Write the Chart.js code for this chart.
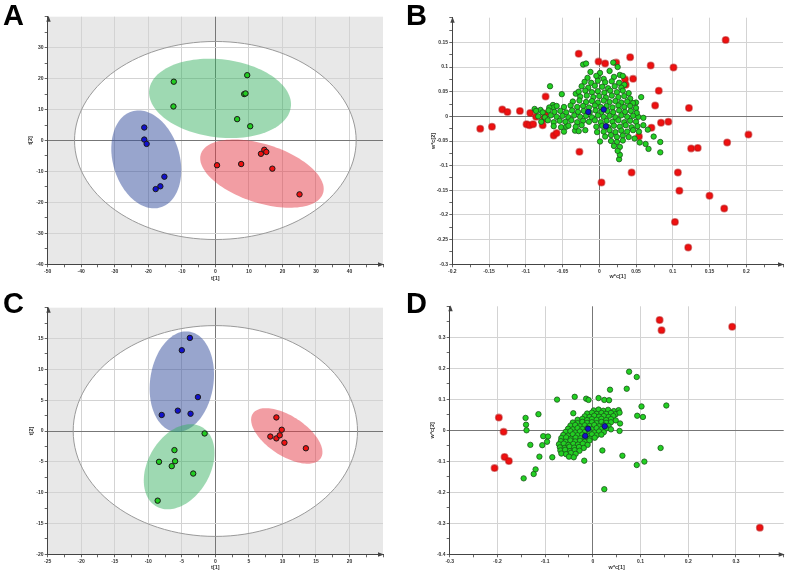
<!DOCTYPE html>
<html><head><meta charset="utf-8">
<script src="https://cdn.jsdelivr.net/npm/chart.js@4.4.0/dist/chart.umd.min.js"></script>
<style>
html,body{margin:0;padding:0;background:#fff;width:787px;height:573px;overflow:hidden;}
.panel{position:absolute;}
.panel canvas{display:block;}
.letter{position:absolute;font-family:"Liberation Sans",Arial,sans-serif;font-weight:bold;font-size:29px;line-height:29px;color:#000;}
</style></head><body>
<div class="panel" style="left:0;top:0;width:393px;height:285px"><canvas id="cA" width="393" height="285"></canvas></div>
<div class="panel" style="left:393px;top:0;width:394px;height:285px"><canvas id="cB" width="394" height="285"></canvas></div>
<div class="panel" style="left:0;top:285px;width:393px;height:288px"><canvas id="cC" width="393" height="288"></canvas></div>
<div class="panel" style="left:393px;top:285px;width:394px;height:288px"><canvas id="cD" width="394" height="288"></canvas></div>
<div class="letter" style="left:3px;top:1px">A</div>
<div class="letter" style="left:406px;top:1px">B</div>
<div class="letter" style="left:3px;top:289px">C</div>
<div class="letter" style="left:406px;top:289px">D</div>
<script>
// ---------- DATA ----------
// Panel A: scores t[1] vs t[2]
const aBlue  = [[-21.2,4.2],[-21.2,0.3],[-20.5,-1.1],[-15.2,-11.7],[-16.4,-14.8],[-17.8,-15.7]];
const aGreen = [[-12.4,19.0],[-12.5,11.0],[9.5,21.1],[8.6,15.0],[9.0,15.2],[6.5,6.9],[10.4,4.6]];
const aRed   = [[0.5,-8.0],[7.7,-7.6],[13.6,-4.3],[14.6,-3.0],[15.2,-3.7],[17.0,-9.1],[25.1,-17.4]];
const aHotelling = [42, 32];
// group ellipses: [cx, cy, semi-major, semi-minor, angle deg]
const aEllBlue  = [-20.6, -6.1, 16.1, 10.0, -76.4];
const aEllGreen = [1.4, 13.6, 21.3, 12.6, -8];
const aEllRed   = [13.9, -10.7, 19.3, 9.4, -20];

// Panel C: scores
const cBlue  = [[-3.8,15.1],[-5.0,13.1],[-2.6,5.5],[-5.6,3.3],[-3.7,2.8],[-8.0,2.6]];
const cGreen = [[-1.6,-0.4],[-6.1,-3.1],[-8.4,-5.0],[-6.0,-4.9],[-6.5,-5.7],[-3.3,-6.9],[-8.6,-11.3]];
const cRed   = [[9.1,2.2],[9.9,0.2],[8.2,-0.9],[9.1,-1.2],[9.6,-0.7],[10.3,-1.9],[13.5,-2.8]];
const cHotelling = [21.2, 17.1];
const cEllBlue  = [-5.0, 8.0, 8.2, 4.73, 83];
const cEllGreen = [-5.4, -5.8, 7.29, 4.72, 65];
const cEllRed   = [10.65, -0.8, 6.23, 3.12, -37];

// Panel B: loadings w*c[1] vs w*c[2]
const bBlue = [[-0.015,0.009],[0.006,0.014],[0.009,-0.020]];
const bRed = [[0.172,0.155],[-0.028,0.127],[-0.001,0.111],[0.008,0.107],[0.023,0.109],[0.042,0.120],[0.070,0.103],
 [0.101,0.099],[0.046,0.076],[0.035,0.075],[0.036,0.064],[0.081,0.052],[0.076,0.022],[0.122,0.017],[-0.073,0.040],
 [-0.132,0.014],[-0.125,0.009],[-0.108,0.011],[-0.094,0.007],[-0.162,-0.025],[-0.146,-0.021],[-0.099,-0.016],
 [-0.095,-0.018],[-0.090,-0.016],[-0.077,-0.018],[-0.075,-0.005],[-0.074,0.005],[-0.086,-0.001],[-0.062,-0.039],
 [-0.058,-0.034],[-0.027,-0.072],[0.003,-0.134],[0.044,-0.114],[0.054,-0.041],[0.071,-0.023],[0.084,-0.013],
 [0.094,-0.011],[0.203,-0.037],[0.174,-0.053],[0.125,-0.065],[0.134,-0.064],[0.107,-0.114],[0.109,-0.151],
 [0.150,-0.161],[0.170,-0.187],[0.103,-0.214],[0.121,-0.266]];
const bGreen = [
 [-0.022,0.105],[-0.018,0.107],[0.019,0.109],[0.025,0.100],[0.028,0.084],[0.032,0.082],[-0.002,0.080],[-0.067,0.061],
 [-0.051,0.045],[-0.032,0.046],[0.057,0.039],[0.050,0.028],[0.053,-0.001],[0.060,-0.003],[0.083,-0.052],[0.083,-0.073],
 [0.067,-0.066],[0.063,-0.056],[0.074,-0.041],[0.055,-0.053],[0.001,-0.051],[-0.003,-0.032],[0.027,-0.087],[0.028,-0.078],
 [-0.088,0.015],[-0.080,0.013],[-0.063,0.023],[-0.062,0.018],[-0.048,-0.031],[-0.045,-0.021],[-0.033,-0.029],[-0.019,-0.028],
 [-0.012,0.09],[0.001,0.088],[0.014,0.092],
 [-0.016,0.078],[-0.004,0.082],[0.006,0.076],[0.02,0.08],
 [-0.02,0.07],[-0.011,0.068],[-0.002,0.072],[0.008,0.069],[0.017,0.071],[0.027,0.068],[0.034,0.064],
 [-0.024,0.061],[-0.015,0.058],[-0.006,0.062],[0.004,0.06],[0.012,0.057],[0.021,0.061],[0.03,0.058],
 [-0.028,0.05],[-0.019,0.052],[-0.01,0.049],[-0.002,0.051],[0.007,0.048],[0.015,0.052],[0.024,0.049],[0.032,0.052],[0.04,0.047],
 [-0.026,0.04],[-0.017,0.042],[-0.008,0.039],[0.0,0.041],[0.009,0.038],[0.017,0.042],[0.026,0.039],[0.034,0.041],[0.042,0.036],
 [-0.036,0.03],[-0.027,0.032],[-0.018,0.029],[-0.01,0.031],[-0.002,0.028],[0.006,0.032],[0.014,0.029],[0.022,0.031],[0.03,0.028],[0.038,0.03],[0.046,0.027],
 [-0.068,0.018],[-0.058,0.021],[-0.048,0.019],[-0.039,0.022],[-0.03,0.019],[-0.022,0.021],[-0.014,0.018],[-0.006,0.022],[0.002,0.019],[0.01,0.021],[0.018,0.018],[0.026,0.022],[0.034,0.019],[0.042,0.021],[0.05,0.017],
 [-0.086,0.011],[-0.077,0.008],[-0.069,0.012],[-0.061,0.009],[-0.053,0.011],[-0.045,0.008],[-0.037,0.012],[-0.029,0.009],[-0.021,0.011],[-0.013,0.008],[-0.005,0.012],[0.003,0.009],[0.011,0.011],[0.019,0.008],[0.027,0.012],[0.035,0.009],[0.043,0.011],[0.051,0.007],
 [-0.083,0.0],[-0.074,-0.002],[-0.066,0.002],[-0.058,-0.001],[-0.05,0.001],[-0.042,-0.002],[-0.034,0.002],[-0.026,-0.001],[-0.018,0.001],[-0.01,-0.002],[-0.002,0.002],[0.006,-0.001],[0.014,0.001],[0.022,-0.002],[0.03,0.002],[0.038,-0.001],[0.046,0.001],
 [-0.079,-0.011],[-0.07,-0.008],[-0.062,-0.012],[-0.054,-0.009],[-0.046,-0.011],[-0.038,-0.008],[-0.03,-0.012],[-0.022,-0.009],[-0.014,-0.011],[-0.006,-0.008],[0.002,-0.012],[0.01,-0.009],[0.018,-0.011],[0.026,-0.008],[0.034,-0.012],[0.042,-0.009],[0.05,-0.011],
 [-0.062,-0.02],[-0.052,-0.022],[-0.042,-0.019],[-0.032,-0.021],[-0.024,-0.018],[-0.004,-0.021],[0.004,-0.019],[0.012,-0.022],[0.02,-0.019],[0.028,-0.021],[0.036,-0.018],[0.044,-0.022],[0.052,-0.02],[0.06,-0.018],
 [-0.028,-0.03],[0.006,-0.031],[0.014,-0.028],[0.022,-0.032],[0.03,-0.029],[0.038,-0.031],[0.046,-0.028],[0.054,-0.031],[0.066,-0.027],
 [0.008,-0.041],[0.016,-0.038],[0.024,-0.042],[0.032,-0.039],[0.04,-0.042],[0.048,-0.045],
 [0.016,-0.05],[0.024,-0.052],[0.032,-0.049],[0.02,-0.06],[0.028,-0.062],[0.025,-0.07]];

// Panel D: loadings
const dBlue = [[-0.010,0.005],[0.025,0.013],[-0.016,-0.018]];
const dRed = [[0.140,0.356],[0.144,0.323],[0.292,0.334],[0.350,-0.314],[-0.197,0.041],[-0.187,-0.005],[-0.185,-0.086],[-0.176,-0.099],[-0.206,-0.122]];
const dGreen = [
 [0.076,0.189],[0.092,0.172],[0.071,0.134],[0.036,0.131],[-0.038,0.108],[-0.075,0.099],[-0.014,0.102],[-0.009,0.098],
 [0.012,0.104],[0.024,0.098],[0.034,0.097],[0.154,0.080],[0.102,0.077],[0.093,0.047],[0.105,0.043],[-0.141,0.040],
 [-0.114,0.052],[-0.140,0.018],[-0.139,0.000],[-0.041,0.055],[0.057,0.022],[-0.131,-0.047],[-0.104,-0.019],[-0.094,-0.020],
 [-0.096,-0.037],[-0.106,-0.048],[-0.112,-0.085],[-0.085,-0.087],[-0.120,-0.126],[-0.124,-0.141],[-0.145,-0.155],
 [-0.018,-0.098],[0.020,-0.065],[0.062,-0.082],[0.024,-0.190],[0.142,-0.057],[0.092,-0.112],[0.108,-0.101],[0.056,-0.002],
 [0.002,0.064],[0.012,0.067],[0.022,0.063],[0.032,0.066],[0.044,0.062],[0.054,0.065],
 [-0.012,0.054],[-0.002,0.057],[0.008,0.053],[0.018,0.056],[0.028,0.053],[0.038,0.056],[0.048,0.052],[0.056,0.057],
 [-0.017,0.045],[-0.007,0.043],[0.003,0.047],[0.013,0.044],[0.023,0.046],[0.033,0.043],[0.043,0.046],
 [-0.032,0.034],[-0.022,0.037],[-0.012,0.033],[-0.002,0.036],[0.008,0.034],[0.018,0.037],[0.028,0.033],[0.038,0.036],[0.048,0.032],
 [-0.042,0.025],[-0.032,0.023],[-0.022,0.027],[-0.012,0.024],[-0.002,0.026],[0.008,0.023],[0.018,0.027],[0.028,0.024],[0.038,0.026],
 [-0.047,0.015],[-0.037,0.017],[-0.027,0.013],[-0.017,0.016],[-0.007,0.014],[0.003,0.017],[0.013,0.013],[0.023,0.016],[0.033,0.014],
 [-0.052,0.005],[-0.042,0.003],[-0.032,0.007],[-0.022,0.004],[-0.012,0.006],[-0.002,0.003],[0.008,0.007],[0.018,0.004],[0.028,0.006],[0.038,0.003],
 [-0.057,-0.005],[-0.047,-0.003],[-0.037,-0.007],[-0.027,-0.004],[-0.017,-0.006],[-0.007,-0.003],[0.003,-0.007],[0.013,-0.004],[0.023,-0.006],
 [-0.062,-0.015],[-0.052,-0.017],[-0.042,-0.013],[-0.032,-0.016],[-0.022,-0.014],[-0.012,-0.017],[-0.002,-0.013],[0.008,-0.016],[0.018,-0.014],
 [-0.066,-0.025],[-0.056,-0.023],[-0.046,-0.027],[-0.036,-0.024],[-0.026,-0.026],[-0.016,-0.023],[-0.006,-0.027],[0.004,-0.024],
 [-0.067,-0.035],[-0.057,-0.037],[-0.047,-0.033],[-0.037,-0.036],[-0.027,-0.034],[-0.017,-0.037],[-0.007,-0.033],
 [-0.071,-0.045],[-0.061,-0.043],[-0.051,-0.047],[-0.041,-0.044],[-0.031,-0.046],[-0.021,-0.043],[-0.011,-0.047],
 [-0.069,-0.055],[-0.059,-0.057],[-0.049,-0.053],[-0.039,-0.056],[-0.029,-0.054],[-0.019,-0.057],
 [-0.068,-0.065],[-0.058,-0.063],[-0.048,-0.067],[-0.038,-0.064],[-0.028,-0.066],
 [-0.066,-0.075],[-0.056,-0.077],[-0.046,-0.073],[-0.036,-0.076],[-0.05,-0.085],[-0.04,-0.087]];

// Axis ranges: [min, max, minor step, major step]
const aXAxis = [-50, 50, 5, 10], aYAxis = [-40, 40, 5, 10];
const bXAxis = [-0.2, 0.25, 0.025, 0.05], bYAxis = [-0.3, 0.2, 0.025, 0.05];
const cXAxis = [-25, 25, 2.5, 5], cYAxis = [-20, 20, 2.5, 5];
const dXAxis = [-0.3, 0.4, 0.05, 0.1], dYAxis = [-0.4, 0.4, 0.05, 0.1];

// ---------- STYLE / RENDER ----------
const FONT = {family:'"Liberation Sans", Arial, sans-serif', size:5, weight:'bold'};
const TFONT = {family:'"Liberation Sans", Arial, sans-serif', size:5.5, weight:'bold'};
const ELL_COLORS = {blue:'rgba(58,82,160,0.52)', green:'rgba(52,175,95,0.48)', red:'rgba(230,60,72,0.5)'};
const decor = {};

function isMajor(v, major){ const r = v/major; return Math.abs(r - Math.round(r)) < 1e-6; }
function fmt(v){ return String(parseFloat(v.toFixed(4))); }
function toXY(arr){ return arr.map(p => ({x:p[0], y:p[1]})); }

function axis(rng, pos, fit, title, titlePad){
  const [mn, mx, minor, major] = rng;
  return {
    type:'linear', position:pos, min:mn, max:mx,
    afterFit: s => { if (pos === 'left') s.width = fit; else s.height = fit; },
    ticks:{ stepSize:minor, autoSkip:false, maxRotation:0, minRotation:0, padding:1.2, font:FONT, color:'#333',
      callback: v => (isMajor(v, major) && Math.abs(v - mx) > 1e-9) ? fmt(v) : '' },
    grid:{ lineWidth:1, tickLength:3, tickColor:'#666', drawTicks:true,
      color: ctx => { const v = ctx.tick ? ctx.tick.value : null;
        if (v === null) return 'rgba(0,0,0,0)';
        if (Math.abs(v - mn) < 1e-9 || Math.abs(v - mx) < 1e-9) return 'rgba(0,0,0,0)';
        if (Math.abs(v) < 1e-9) return '#777';
        return isMajor(v, major) ? '#d3d3d3' : 'rgba(0,0,0,0)'; } },
    border:{ display:true, color:'#444', width:1 },
    title:{ display:true, text:title, font:TFONT, color:'#333', padding: titlePad }
  };
}

function ellPath(ctx, xs, ys, e){
  const [cx, cy, a, b, deg] = e; const th = deg*Math.PI/180;
  ctx.beginPath();
  for (let i = 0; i <= 120; i++){
    const t = i/120*Math.PI*2; const dx = a*Math.cos(t), dy = b*Math.sin(t);
    const x = cx + dx*Math.cos(th) - dy*Math.sin(th);
    const y = cy + dx*Math.sin(th) + dy*Math.cos(th);
    const px = xs.getPixelForValue(x), py = ys.getPixelForValue(y);
    if (i === 0) ctx.moveTo(px, py); else ctx.lineTo(px, py);
  }
  ctx.closePath();
}

const pcaDecor = {
  id:'pcaDecor',
  beforeDraw(chart){
    const d = decor[chart.canvas.id]; if (!d) return;
    const {ctx, chartArea:ca, scales:{x, y}} = chart;
    ctx.save();
    if (d.hotelling){
      ctx.fillStyle = '#e8e8e8';
      ctx.fillRect(ca.left, ca.top, ca.right - ca.left, ca.bottom - ca.top);
      ellPath(ctx, x, y, [0, 0, d.hotelling[0], d.hotelling[1], 0]);
      ctx.fillStyle = '#ffffff'; ctx.fill();
    }
    ctx.restore();
  },
  beforeDatasetsDraw(chart){
    const d = decor[chart.canvas.id]; if (!d) return;
    const {ctx, chartArea:ca, scales:{x, y}} = chart;
    ctx.save();
    ctx.beginPath(); ctx.rect(ca.left, ca.top, ca.right-ca.left, ca.bottom-ca.top); ctx.clip();
    if (d.hotelling){
      ellPath(ctx, x, y, [0, 0, d.hotelling[0], d.hotelling[1], 0]);
      ctx.strokeStyle = '#9a9a9a'; ctx.lineWidth = 1; ctx.stroke();
    }
    (d.groups || []).forEach(g => { ellPath(ctx, x, y, g.e); ctx.fillStyle = g.color; ctx.fill(); });
    ctx.restore();
  },
  afterDraw(chart){
    const {ctx, chartArea:ca} = chart;
    ctx.save(); ctx.fillStyle = '#444';
    const lx = Math.round(ca.left) + 0.5, by = Math.round(ca.bottom) + 0.5;
    ctx.beginPath(); ctx.moveTo(lx, ca.top - 1); ctx.lineTo(lx - 2.2, ca.top + 5); ctx.lineTo(lx + 2.2, ca.top + 5); ctx.closePath(); ctx.fill();
    ctx.beginPath(); ctx.moveTo(ca.right + 1, by); ctx.lineTo(ca.right - 5, by - 2.2); ctx.lineTo(ca.right - 5, by + 2.2); ctx.closePath(); ctx.fill();
    ctx.restore();
  }
};
Chart.register(pcaDecor);

function scoreSets(blue, green, red){
  const base = {radius:2.7, borderWidth:1, borderColor:'#1a1a1a', hoverRadius:2.7};
  return [
    Object.assign({label:'blue', data:toXY(blue), backgroundColor:'#1111cc'}, base),
    Object.assign({label:'green', data:toXY(green), backgroundColor:'#22cc22'}, base),
    Object.assign({label:'red', data:toXY(red), backgroundColor:'#ee1111'}, base)
  ];
}
function loadingSets(blue, green, red){
  return [
    {label:'blue', data:toXY(blue), backgroundColor:'#1414c8', borderColor:'#101040', borderWidth:0.8, radius:2.7},
    {label:'green', data:toXY(green), backgroundColor:'#22d022', borderColor:'#1c541c', borderWidth:0.8, radius:2.7},
    {label:'red', data:toXY(red), backgroundColor:'#f01010', borderColor:'rgba(190,20,20,0.55)', borderWidth:1.6, radius:3.2}
  ];
}

function make(id, datasets, xr, yr, pad, fits, titles, tpads){
  new Chart(document.getElementById(id), {
    type:'scatter',
    data:{datasets},
    options:{
      responsive:false, animation:false, devicePixelRatio:1,
      layout:{autoPadding:false, padding:{top:pad[0], right:pad[1], bottom:0, left:0}},
      plugins:{legend:{display:false}, tooltip:{enabled:false}},
      events:[],
      scales:{
        x: axis(xr, 'bottom', fits[1], titles[0], {top:0, bottom:tpads[1]}),
        y: axis(yr, 'left', fits[0], titles[1], {top:tpads[0], bottom:0})
      }
    }
  });
}

decor.cA = {hotelling:aHotelling, groups:[{e:aEllBlue,color:ELL_COLORS.blue},{e:aEllGreen,color:ELL_COLORS.green},{e:aEllRed,color:ELL_COLORS.red}]};
decor.cC = {hotelling:cHotelling, groups:[{e:cEllBlue,color:ELL_COLORS.blue},{e:cEllGreen,color:ELL_COLORS.green},{e:cEllRed,color:ELL_COLORS.red}]};
decor.cB = {}; decor.cD = {};

make('cA', scoreSets(aBlue, aGreen, aRed), aXAxis, aYAxis, [16.7, 10], [47.7, 20.7], ['t[1]','t[2]'], [26.7, 3.4]);
make('cB', loadingSets(bBlue, bGreen, bRed), bXAxis, bYAxis, [17.7, 4], [59.3, 20.7], ['w*c[1]','w*c[2]'], [36.7, 5]);
make('cC', scoreSets(cBlue, cGreen, cRed), cXAxis, cYAxis, [22.7, 10], [47.7, 18.7], ['t[1]','t[2]'], [28.4, 2]);
make('cD', loadingSets(dBlue, dGreen, dRed), dXAxis, dYAxis, [21.3, 3.3], [56.7, 18.7], ['w*c[1]','w*c[2]'], [36, 2]);
</script>
</body></html>
